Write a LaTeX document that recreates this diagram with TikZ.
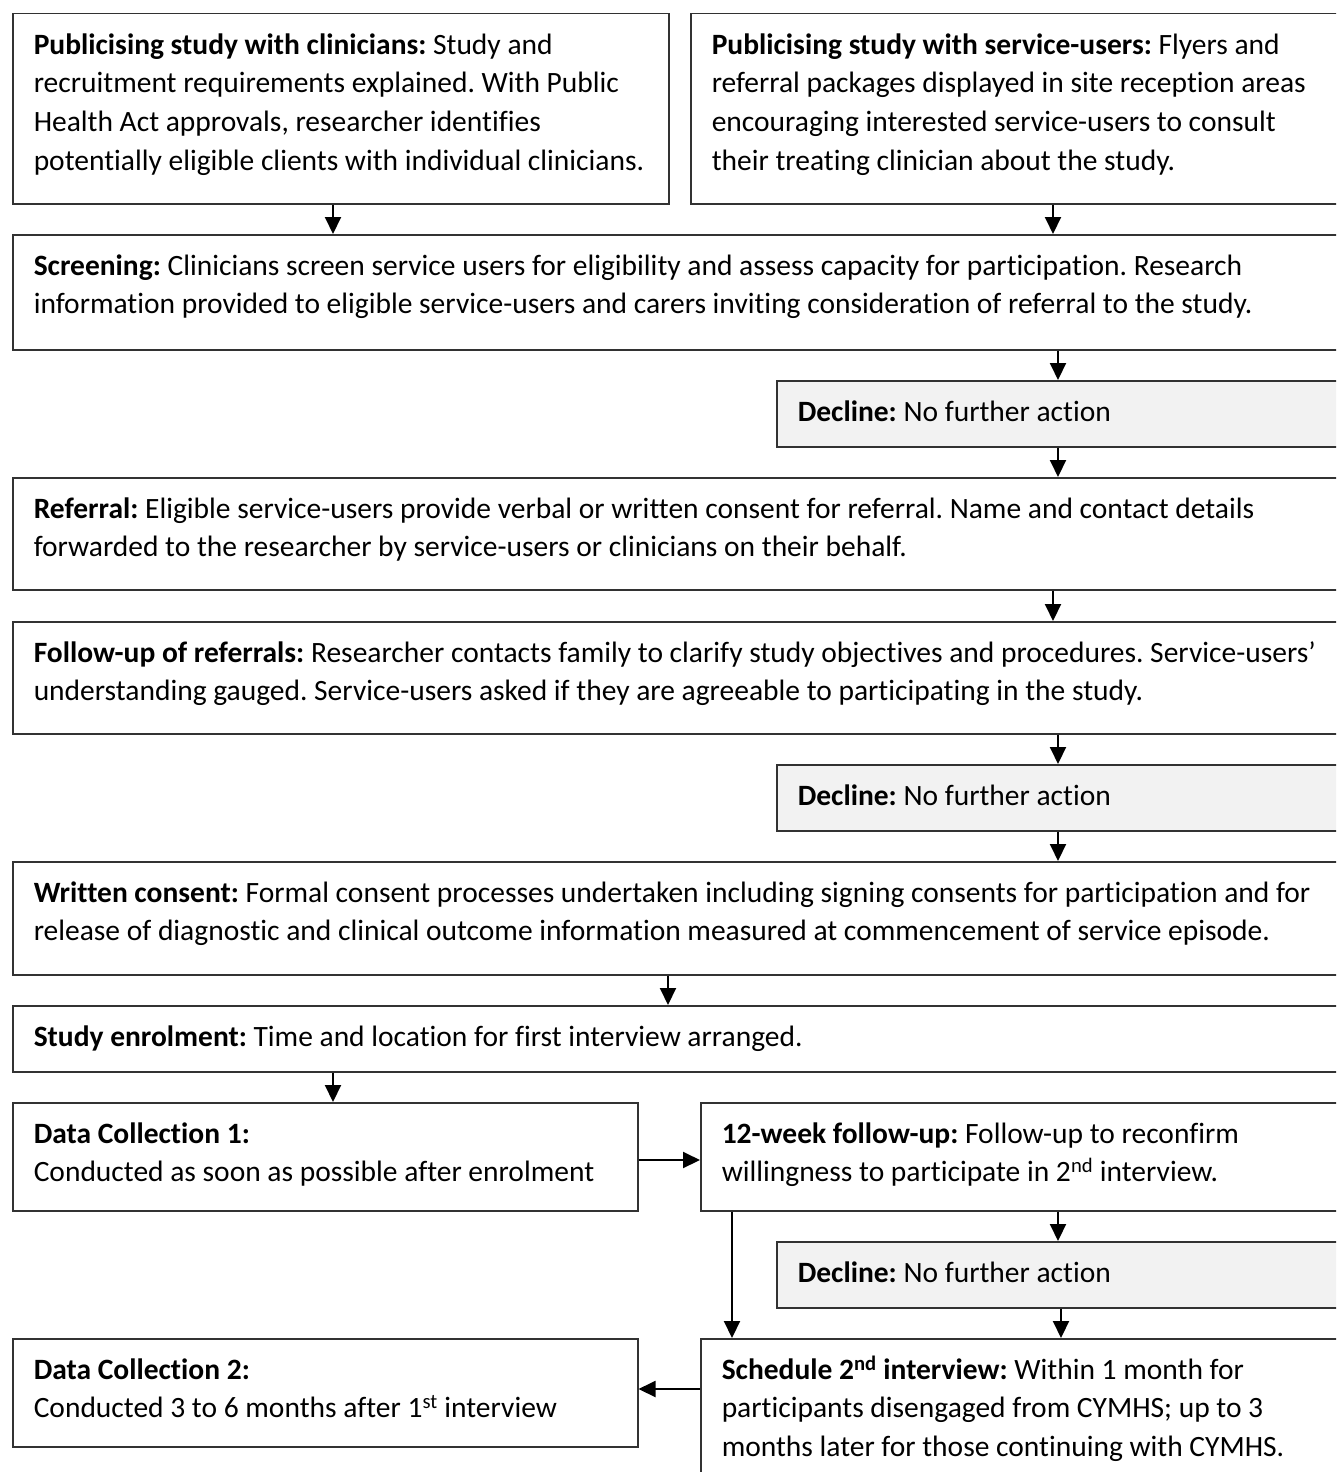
\documentclass[tikz,border=0pt]{standalone}
\usepackage{fontspec}
\setmainfont{Carlito}[Ligatures=NoCommon]
\usetikzlibrary{arrows.meta}
\frenchspacing
\newcommand{\bxt}[3]{\parbox[t][#2pt][t]{#1pt}{\frenchspacing\raggedright\leftskip=21pt\relax\rule{0pt}{40.5pt}#3}}
\definecolor{declfill}{RGB}{242,242,242}
\definecolor{boxline}{RGB}{50,50,50}
\begin{document}
\begin{tikzpicture}[x=1pt,y=-1pt,
  every node/.style={font=\fontsize{29.5}{38.6}\selectfont},
  box/.style={draw=boxline, line width=1.5pt, inner sep=0pt, anchor=north west, fill=white},
  decl/.style={box, fill=declfill},
  arr/.style={line width=2pt, -{Triangle[length=17pt,width=16pt]}}]
\useasboundingbox (0,0) rectangle (1336,1472);
\clip (0,0) rectangle (1336,1472);
\node[box] (pubc) at (12,13) {\bxt{656}{190}{\textbf{Publicising study with clinicians:} Study and\\recruitment requirements explained. With Public\\Health Act approvals, researcher identifies\\potentially eligible clients with individual clinicians.}};
\node[box] (pubs) at (690,13) {\bxt{680}{190}{\textbf{Publicising study with service-users:} Flyers and\\referral packages displayed in site reception areas\\encouraging interested service-users to consult\\their treating clinician about the study.}};
\node[box] (screen) at (12,234) {\bxt{1358}{115}{\textbf{Screening:} Clinicians screen service users for eligibility and assess capacity for participation. Research\\information provided to eligible service-users and carers inviting consideration of referral to the study.}};
\node[decl] (dec1) at (776,380) {\bxt{594}{66}{\textbf{Decline:} No further action}};
\node[box] (refer) at (12,477) {\bxt{1358}{112}{\textbf{Referral:} Eligible service-users provide verbal or written consent for referral. Name and contact details\\forwarded to the researcher by service-users or clinicians on their behalf.}};
\node[box] (follow) at (12,621) {\bxt{1358}{112}{\textbf{Follow-up of referrals:} Researcher contacts family to clarify study objectives and procedures. Service-users’\\understanding gauged. Service-users asked if they are agreeable to participating in the study.}};
\node[decl] (dec2) at (776,764) {\bxt{594}{66}{\textbf{Decline:} No further action}};
\node[box] (written) at (12,861) {\bxt{1358}{113}{\textbf{Written consent:} Formal consent processes undertaken including signing consents for participation and for\\release of diagnostic and clinical outcome information measured at commencement of service episode.}};
\node[box] (enrol) at (12,1005) {\bxt{1358}{66}{\textbf{Study enrolment:} Time and location for first interview arranged.}};
\node[box] (dc1) at (12,1102) {\bxt{625}{108}{\textbf{Data Collection 1:}\\Conducted as soon as possible after enrolment}};
\node[box] (wk) at (700,1102) {\bxt{670}{108}{\textbf{12-week follow-up:} Follow-up to reconfirm\\willingness to participate in 2\textsuperscript{nd} interview.}};
\node[decl] (dec3) at (776,1241) {\bxt{594}{66}{\textbf{Decline:} No further action}};
\node[box] (sched) at (700,1338) {\bxt{670}{160}{\textbf{Schedule 2\textsuperscript{nd} interview:} Within 1 month for\\participants disengaged from CYMHS; up to 3\\months later for those continuing with CYMHS.}};
\node[box] (dc2) at (12,1338) {\bxt{625}{108}{\textbf{Data Collection 2:}\\Conducted 3 to 6 months after 1\textsuperscript{st} interview}};
\coordinate (xa) at (333,0);
\coordinate (xb) at (1053,0);
\coordinate (xc) at (1058,0);
\coordinate (xd) at (668,0);
\coordinate (xe) at (732,0);
\coordinate (xf) at (1061,0);
\coordinate (ya) at (0,1160);
\coordinate (yb) at (0,1389);
\draw[arr] (pubc.south -| xa) -- (screen.north -| xa);
\draw[arr] (pubs.south -| xb) -- (screen.north -| xb);
\draw[arr] (screen.south -| xc) -- (dec1.north -| xc);
\draw[arr] (dec1.south -| xc) -- (refer.north -| xc);
\draw[arr] (refer.south -| xb) -- (follow.north -| xb);
\draw[arr] (follow.south -| xc) -- (dec2.north -| xc);
\draw[arr] (dec2.south -| xc) -- (written.north -| xc);
\draw[arr] (written.south -| xd) -- (enrol.north -| xd);
\draw[arr] (enrol.south -| xa) -- (dc1.north -| xa);
\draw[arr] (dc1.east |- ya) -- (wk.west |- ya);
\draw[arr] (wk.south -| xc) -- (dec3.north -| xc);
\draw[arr] (dec3.south -| xf) -- (sched.north -| xf);
\draw[arr] (wk.south -| xe) -- (sched.north -| xe);
\draw[arr] (sched.west |- yb) -- (dc2.east |- yb);
\end{tikzpicture}
\end{document}
